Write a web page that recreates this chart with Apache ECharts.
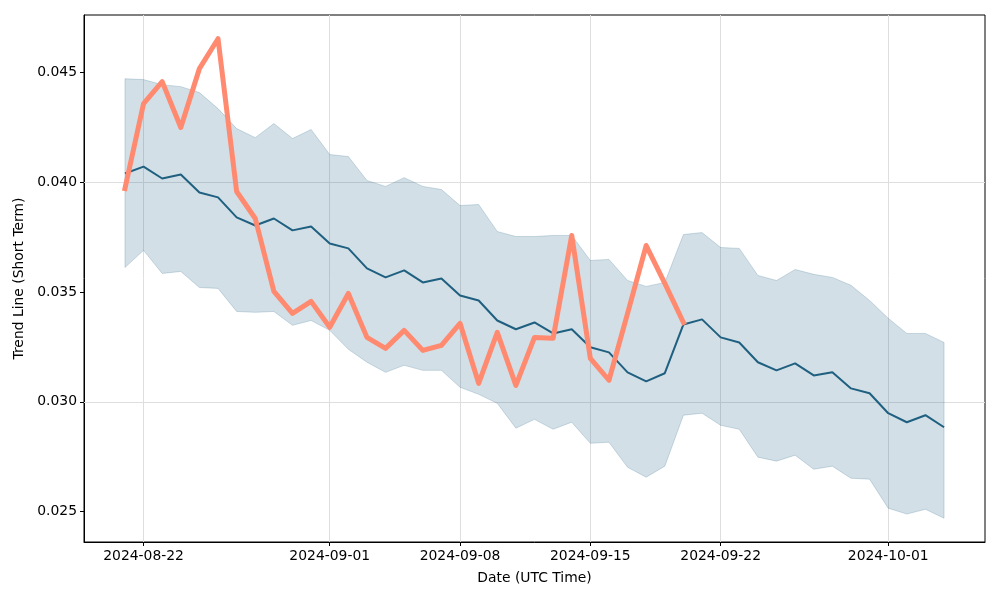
<!DOCTYPE html>
<html><head><meta charset="utf-8">
<script src="https://cdn.jsdelivr.net/npm/echarts@6/dist/echarts.min.js"></script>
<style>html,body{margin:0;padding:0;background:#fff}#c{width:1000px;height:600px}</style>
</head><body><div id="c"></div>
<script>
const dates = ['2024-08-21','2024-08-22','2024-08-23','2024-08-24','2024-08-25','2024-08-26','2024-08-27','2024-08-28','2024-08-29','2024-08-30','2024-08-31',
'2024-09-01','2024-09-02','2024-09-03','2024-09-04','2024-09-05','2024-09-06','2024-09-07','2024-09-08','2024-09-09','2024-09-10',
'2024-09-11','2024-09-12','2024-09-13','2024-09-14','2024-09-15','2024-09-16','2024-09-17','2024-09-18','2024-09-19','2024-09-20',
'2024-09-21','2024-09-22','2024-09-23','2024-09-24','2024-09-25','2024-09-26','2024-09-27','2024-09-28','2024-09-29','2024-09-30',
'2024-10-01','2024-10-02','2024-10-03','2024-10-04'];
const meanVals = [0.04039,0.04070,0.04016,0.04034,0.03952,0.03930,0.03839,0.03802,0.03834,0.03780,0.03798,
0.03720,0.03698,0.03607,0.03566,0.03598,0.03543,0.03561,0.03484,0.03461,0.03370,
0.03330,0.03361,0.03311,0.03330,0.03248,0.03225,0.03134,0.03093,0.03130,0.03352,
0.03375,0.03293,0.03270,0.03180,0.03143,0.03175,0.03120,0.03134,0.03061,0.03039,
0.02948,0.02907,0.02939,0.02884];
const upperVals = [0.04470,0.04466,0.04443,0.04434,0.04407,0.04334,0.04243,0.04202,0.04266,0.04198,0.04239,
0.04125,0.04116,0.04007,0.03980,0.04020,0.03980,0.03966,0.03893,0.03898,0.03775,
0.03752,0.03752,0.03757,0.03757,0.03643,0.03648,0.03552,0.03525,0.03543,0.03761,
0.03770,0.03702,0.03698,0.03575,0.03552,0.03602,0.03580,0.03566,0.03530,0.03461,
0.03380,0.03311,0.03311,0.03270];
const lowerVals = [0.03611,0.03689,0.03584,0.03593,0.03520,0.03516,0.03411,0.03407,0.03411,0.03348,0.03370,
0.03325,0.03239,0.03180,0.03134,0.03166,0.03143,0.03143,0.03066,0.03034,0.02993,
0.02880,0.02920,0.02875,0.02907,0.02811,0.02816,0.02702,0.02657,0.02707,0.02939,
0.02948,0.02893,0.02875,0.02748,0.02730,0.02757,0.02693,0.02707,0.02652,0.02648,
0.02516,0.02489,0.02511,0.02470];
const priceVals = [0.03970,0.04357,0.04457,0.04248,0.04516,0.04652,0.03957,0.03834,0.03502,0.03402,0.03457,
0.03339,0.03493,0.03293,0.03243,0.03325,0.03234,0.03257,0.03357,0.03084,0.03316,
0.03075,0.03293,0.03289,0.03757,0.03198,0.03098,0.03402,0.03711,0.03539,0.03361];
const xTickLabels = ['2024-08-22','2024-09-01','2024-09-08','2024-09-15','2024-09-22','2024-10-01'];
const yTickValues = [0.025,0.030,0.035,0.040,0.045];
const yMin = 0.02362, yMax = 0.04760;

const DAY = 86400000;
const ts = s => Date.parse(s + 'T00:00:00Z');
const xs = dates.map(ts);
const xTicks = xTickLabels.map(ts);
const fmt = v => new Date(v).toISOString().slice(0, 10);
const xMin = xs[0] - 2.2 * DAY, xMax = xs[xs.length - 1] + 2.2 * DAY;
const FONT = 'DejaVu Sans';
const FS = 13.9;

const chart = echarts.init(document.getElementById('c'), null, {renderer: 'canvas'});
chart.setOption({
  animation: false,
  backgroundColor: '#ffffff',
  grid: {left: 84, right: 15, top: 15, bottom: 58, show: true, borderColor: '#000', borderWidth: 1, containLabel: false, outerBoundsMode: 'none'},
  xAxis: {
    type: 'value', min: xMin, max: xMax,
    name: 'Date (UTC Time)', nameLocation: 'middle', nameGap: 29,
    nameTextStyle: {color: '#000', fontSize: FS, fontFamily: FONT},
    axisLine: {show: true, onZero: false, lineStyle: {color: '#000', width: 1}},
    axisTick: {show: true, customValues: xTicks, length: 4, lineStyle: {color: '#000'}},
    axisLabel: {customValues: xTicks, formatter: fmt, color: '#000', fontSize: FS, fontFamily: FONT, margin: 7},
    splitLine: {show: false}
  },
  yAxis: {
    type: 'value', min: yMin, max: yMax,
    name: 'Trend Line (Short Term)', nameLocation: 'middle', nameGap: 57,
    nameTextStyle: {color: '#000', fontSize: FS, fontFamily: FONT},
    axisLine: {show: true, onZero: false, lineStyle: {color: '#000', width: 1}},
    axisTick: {show: true, customValues: yTickValues, length: 4, lineStyle: {color: '#000'}},
    axisLabel: {customValues: yTickValues, formatter: v => v.toFixed(3), color: '#000', fontSize: FS, fontFamily: FONT, margin: 7},
    splitLine: {show: false}
  },
  series: [
    {
      type: 'custom', z: 2, silent: true, clip: true,
      data: [[xs[0], upperVals[0]]],
      encode: {x: 0, y: 1},
      renderItem: (params, api) => {
        const pts = [];
        for (let i = 0; i < xs.length; i++) pts.push(api.coord([xs[i], upperVals[i]]));
        for (let i = xs.length - 1; i >= 0; i--) pts.push(api.coord([xs[i], lowerVals[i]]));
        return {type: 'polygon', shape: {points: pts},
          style: {fill: 'rgba(31,95,128,0.2)', stroke: 'rgba(31,95,128,0.2)', lineWidth: 1}};
      }
    },
    {
      type: 'line', z: 3, silent: true, symbol: 'none',
      data: xs.map((x, i) => [x, meanVals[i]]),
      lineStyle: {color: '#1f5f80', width: 2},
      markLine: {
        silent: true, symbol: 'none', z: 1, animation: false,
        label: {show: false},
        lineStyle: {color: '#dedede', type: 'solid', width: 1},
        emphasis: {disabled: true},
        data: [...xTicks.map(v => ({xAxis: v})), ...yTickValues.map(v => ({yAxis: v}))]
      }
    },
    {
      type: 'line', z: 4, silent: true, symbol: 'none',
      data: priceVals.map((v, i) => [xs[i], v]),
      lineStyle: {color: '#ff8a70', width: 5, join: 'round', cap: 'square'}
    }
  ]
});
</script></body></html>
